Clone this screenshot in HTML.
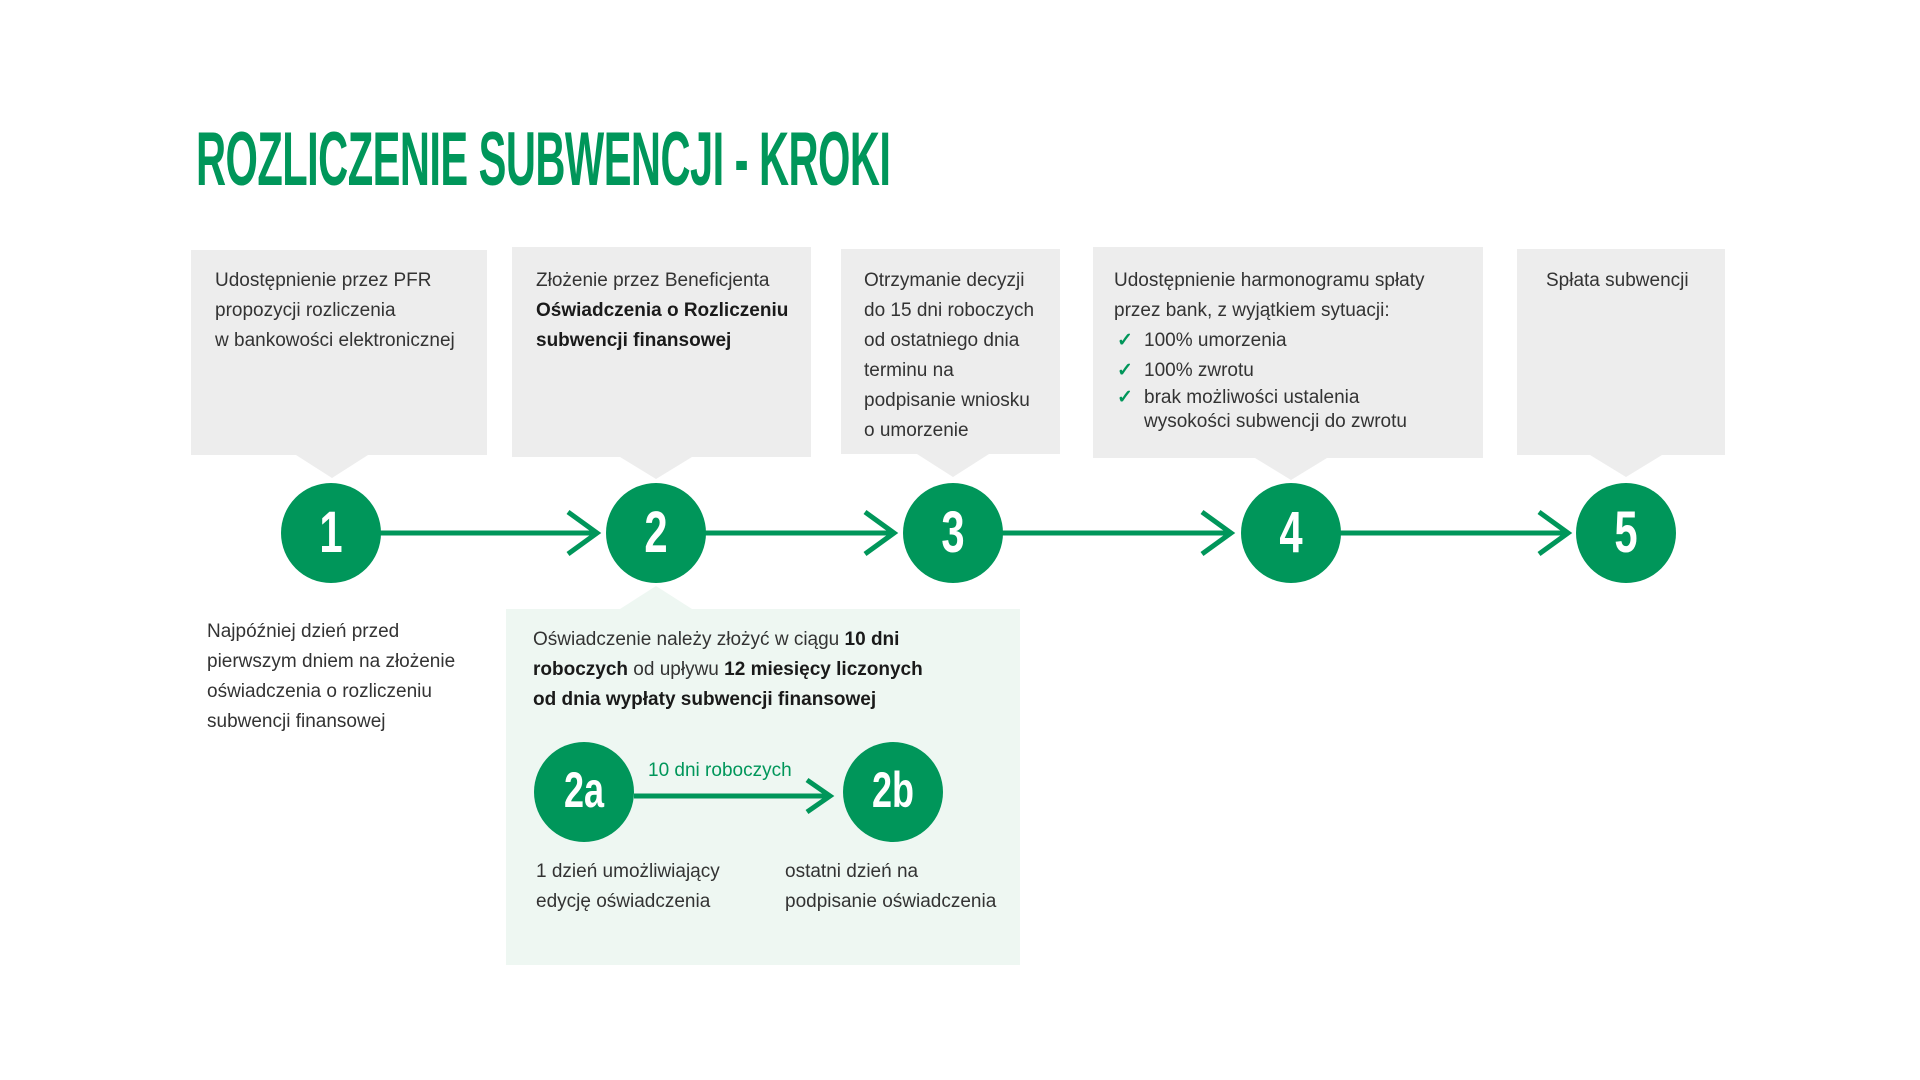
<!DOCTYPE html>
<html><head><meta charset="utf-8"><style>
body{margin:0;width:1920px;height:1080px;background:#fff;position:relative;overflow:hidden;font-family:"Liberation Sans",sans-serif;color:#333}
.t{position:absolute;font-size:19px;line-height:30px;white-space:nowrap}
b{color:#1a1a1a}
.num{position:absolute;color:#fff;font-weight:bold;font-size:58px;line-height:58px;text-align:center;transform:scaleX(0.72);font-family:"Liberation Sans",sans-serif}
h1{position:absolute;left:196px;top:120px;margin:0;font-size:76px;line-height:80px;color:#00965a;font-weight:bold;transform:scaleX(0.548);transform-origin:0 0;white-space:nowrap;letter-spacing:-1px}
.ck{color:#00965a;font-weight:bold;position:absolute;left:-27px}
</style></head><body>
<svg width="1920" height="1080" style="position:absolute;left:0;top:0">
<g fill="#ededed">
<rect x="191" y="250" width="296" height="205"/><polygon points="296,455 368,455 332,478"/>
<rect x="512" y="247" width="299" height="210"/><polygon points="620,457 692,457 656,479"/>
<rect x="841" y="249" width="219" height="205"/><polygon points="917,454 989,454 953,477"/>
<rect x="1093" y="247" width="390" height="211"/><polygon points="1255,458 1327,458 1291,480"/>
<rect x="1517" y="249" width="208" height="206"/><polygon points="1590,455 1662,455 1626,477"/>
</g>
<rect x="506" y="609" width="514" height="356" fill="#eef7f2"/>
<polygon points="620,609 692,609 656,586" fill="#eef7f2"/>
<g stroke="#00965a" stroke-width="5" fill="none">
<line x1="380" y1="533" x2="596" y2="533"/><polyline points="568,512 597,533 568,554"/>
<line x1="705" y1="533" x2="893" y2="533"/><polyline points="865,512 894,533 865,554"/>
<line x1="1002" y1="533" x2="1230" y2="533"/><polyline points="1202,512 1231,533 1202,554"/>
<line x1="1340" y1="533" x2="1567" y2="533"/><polyline points="1539,512 1568,533 1539,554"/>
<line x1="634" y1="796" x2="829" y2="796"/><polyline points="807,780 830,796 807,812"/>
</g>
<g fill="#00965a">
<circle cx="331" cy="533" r="50"/><circle cx="656" cy="533" r="50"/><circle cx="953" cy="533" r="50"/><circle cx="1291" cy="533" r="50"/><circle cx="1626" cy="533" r="50"/>
<circle cx="584" cy="792" r="50"/><circle cx="893" cy="792" r="50"/>
</g>
</svg>
<h1>ROZLICZENIE SUBWENCJI - KROKI</h1>
<div class="num" style="left:301px;top:504px;width:60px">1</div>
<div class="num" style="left:626px;top:504px;width:60px">2</div>
<div class="num" style="left:923px;top:504px;width:60px">3</div>
<div class="num" style="left:1261px;top:504px;width:60px">4</div>
<div class="num" style="left:1596px;top:504px;width:60px">5</div>
<div class="num" style="left:544px;top:765px;width:80px;font-size:50px;line-height:50px">2a</div>
<div class="num" style="left:853px;top:765px;width:80px;font-size:50px;line-height:50px">2b</div>

<div class="t" style="left:215px;top:266px">Udostępnienie przez PFR<br>propozycji rozliczenia<br>w bankowości elektronicznej</div>
<div class="t" style="left:536px;top:266px">Złożenie przez Beneficjenta<br><b>Oświadczenia o Rozliczeniu<br>subwencji finansowej</b></div>
<div class="t" style="left:864px;top:266px">Otrzymanie decyzji<br>do 15 dni roboczych<br>od ostatniego dnia<br>terminu na<br>podpisanie wniosku<br>o umorzenie</div>
<div class="t" style="left:1114px;top:266px">Udostępnienie harmonogramu spłaty<br>przez bank, z wyjątkiem sytuacji:</div>
<div class="t" style="left:1144px;top:326px"><span class="ck">✓</span>100% umorzenia</div>
<div class="t" style="left:1144px;top:356px"><span class="ck">✓</span>100% zwrotu</div>
<div class="t" style="left:1144px;top:386px;line-height:24px"><span class="ck">✓</span>brak możliwości ustalenia<br>wysokości subwencji do zwrotu</div>
<div class="t" style="left:1546px;top:266px">Spłata subwencji</div>

<div class="t" style="left:207px;top:617px">Najpóźniej dzień przed<br>pierwszym dniem na złożenie<br>oświadczenia o rozliczeniu<br>subwencji finansowej</div>
<div class="t" style="left:533px;top:625px">Oświadczenie należy złożyć w ciągu <b>10 dni</b><br><b>roboczych</b> od upływu <b>12 miesięcy liczonych</b><br><b>od dnia wypłaty subwencji finansowej</b></div>
<div class="t" style="left:648px;top:756px;color:#00965a">10 dni roboczych</div>
<div class="t" style="left:536px;top:857px">1 dzień umożliwiający<br>edycję oświadczenia</div>
<div class="t" style="left:785px;top:857px">ostatni dzień na<br>podpisanie oświadczenia</div>
</body></html>
